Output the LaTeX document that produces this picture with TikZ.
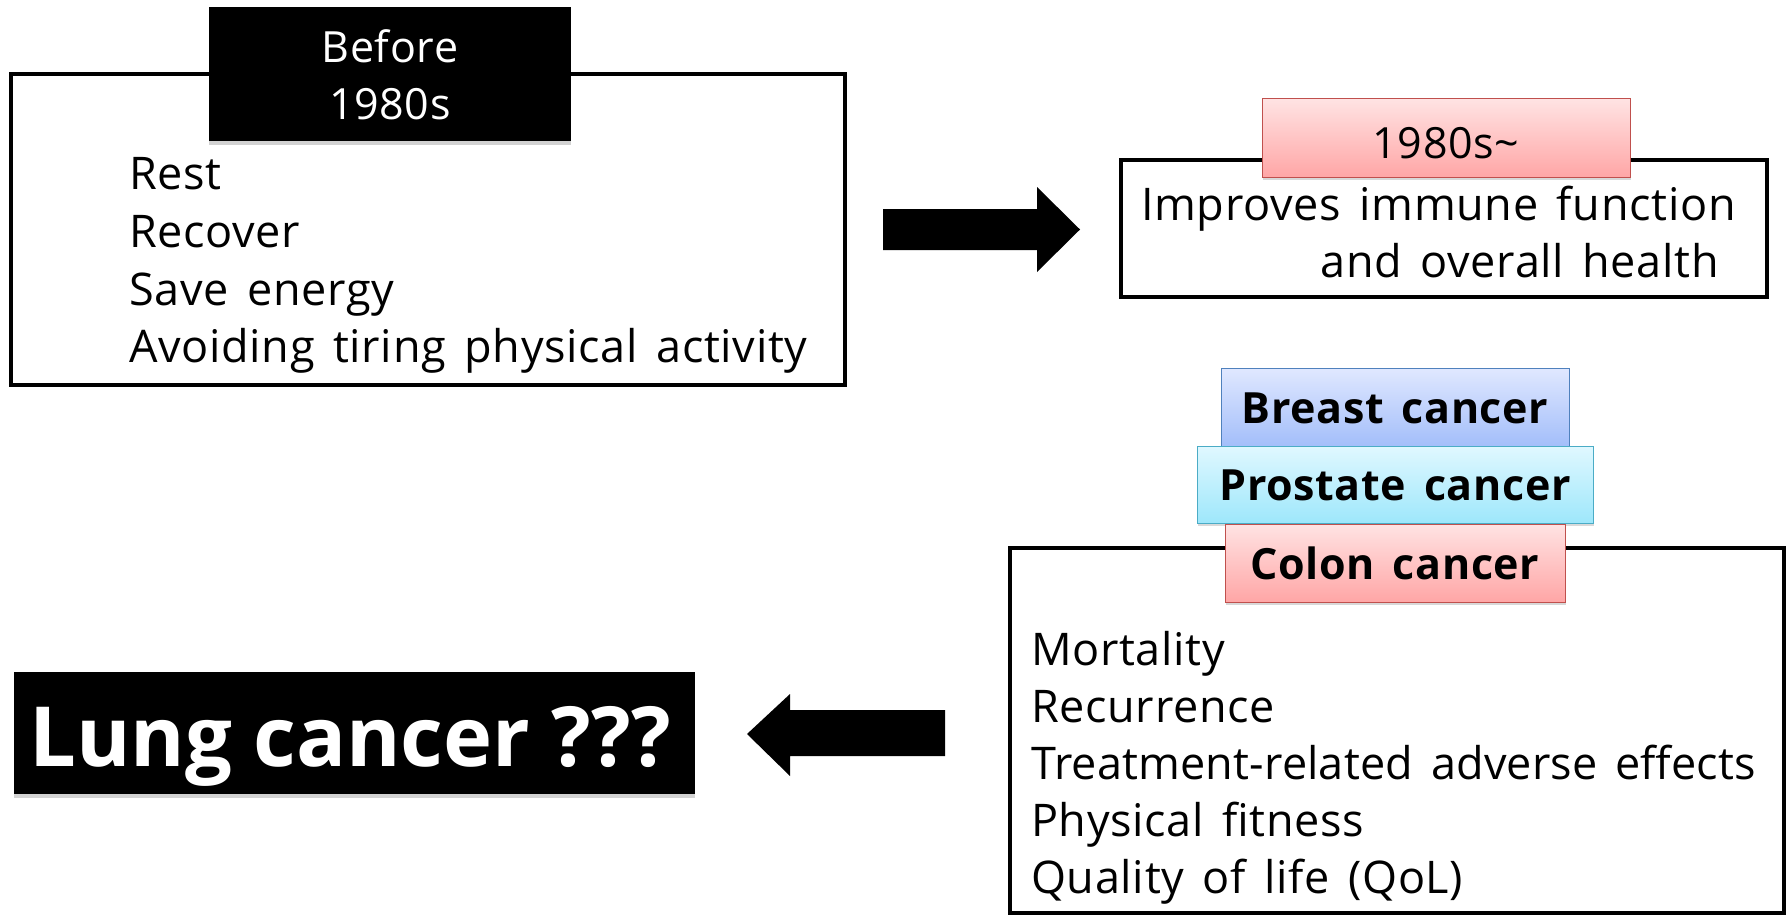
\documentclass[tikz,border=0pt]{standalone}
\usepackage{fontspec}
\setmainfont[WordSpace=1.5,LetterSpace=1.5]{Open Sans}
\newfontfamily\lungfont{Open Sans}
\newfontfamily\tightfont[WordSpace=1.5,LetterSpace=0.4]{Open Sans}
\usetikzlibrary{shadows}
\definecolor{pinktop}{HTML}{FFE3E3}
\definecolor{pinkbot}{HTML}{FFA6A6}
\definecolor{pinkline}{HTML}{C0504D}
\definecolor{bluetop}{HTML}{E0E8FF}
\definecolor{bluebot}{HTML}{A3BEFA}
\definecolor{blueline}{HTML}{4F81BD}
\definecolor{cyantop}{HTML}{E0F8FF}
\definecolor{cyanbot}{HTML}{9EE7FB}
\definecolor{cyanline}{HTML}{4BACC6}
\begin{document}
\begin{tikzpicture}[x=1pt,y=-1pt,
  frame/.style={draw=black, line width=3.5pt, fill=white, inner sep=0pt},
  blackbox/.style={fill=black, inner sep=0pt, text=white,
     drop shadow={shadow xshift=0pt, shadow yshift=-4pt, opacity=0.35}},
  tab/.style={inner sep=0pt, line width=1pt,
     drop shadow={shadow xshift=1pt, shadow yshift=-3pt, opacity=0.3}},
  pinktab/.style={tab, draw=pinkline, top color=pinktop, bottom color=pinkbot},
  bluetab/.style={tab, draw=blueline, top color=bluetop, bottom color=bluebot},
  cyantab/.style={tab, draw=cyanline, top color=cyantop, bottom color=cyanbot},
  body/.style={font=\fontsize{45}{57}\selectfont, inner sep=0pt},
  head/.style={font=\fontsize{43}{57}\selectfont, inner sep=0pt},
  boldtab/.style={font=\bfseries\fontsize{43}{48}\selectfont, inner sep=0pt},
  blockarrow/.style={fill=black}]
\useasboundingbox (0,0) rectangle (1787,915);

% Box 1
\node[frame, minimum width=834pt, minimum height=311pt] (box1) at (428,229.5) {};
\node[blackbox, minimum width=362pt, minimum height=134pt] (before) at (390,74) {};
\node[head, anchor=base, text=white] (before1) at (390,63) {Before};
\node[head, anchor=base, text=white] (before2) at (390,120) {1980s};
\node[body, anchor=base west] (r1) at (129,189) {Rest};
\node[body, anchor=base west] (r2) at (129,247) {Recover};
\node[body, anchor=base west] (r3) at (129,305) {Save energy};
\node[body, anchor=base west] (r4) at (129,362) {Avoiding tiring physical activity};

% Right arrow
\fill[blockarrow] (883,209) -- (1037,209) -- (1037,187) -- (1080,229.5)
  -- (1037,272) -- (1037,250) -- (883,250) -- cycle;

% Box 2
\node[frame, minimum width=646pt, minimum height=137pt] (box2) at (1444,228.5) {};
\node[pinktab, minimum width=368pt, minimum height=78pt] (y1980) at (1446,138) {};
\node[head, anchor=base] (y1980t) at (1446,158) {1980s\textasciitilde};
\node[body, anchor=base west] (i1) at (1141,220) {Improves immune function};
\node[body, anchor=base east] (i2) at (1719,277) {and overall health};

% Box 3
\node[frame, minimum width=774pt, minimum height=365pt] (box3) at (1397,730.5) {};
\node[bluetab, minimum width=348pt, minimum height=78pt] (breast) at (1395,407) {};
\node[cyantab, minimum width=396pt, minimum height=77pt] (prostate) at (1395,484.5) {};
\node[pinktab, minimum width=340pt, minimum height=78pt] (colon) at (1395,563) {};
\node[boldtab, anchor=base] (breastt) at (1395,423) {Breast cancer};
\node[boldtab, anchor=base] (prostatet) at (1395,500) {Prostate cancer};
\node[boldtab, anchor=base] (colont) at (1395,579) {Colon cancer};
\node[body, anchor=base west] (m1) at (1031,665) {Mortality};
\node[body, anchor=base west] (m2) at (1031,722) {Recurrence};
\node[body, anchor=base west, font=\tightfont\fontsize{45}{57}\selectfont] (m3) at (1031,779) {Treatment-related adverse effects};
\node[body, anchor=base west] (m4) at (1031,836) {Physical fitness};
\node[body, anchor=base west] (m5) at (1031,893) {Quality of life (QoL)};

% Left arrow
\fill[blockarrow] (945,710) -- (790,710) -- (790,694) -- (747,734)
  -- (790,776) -- (790,756) -- (945,756) -- cycle;

% Lung cancer
\node[blackbox, minimum width=681pt, minimum height=122pt] (lung) at (354.5,733) {};
\node[anchor=base, text=white, inner sep=0pt,
      font=\lungfont\bfseries\fontsize{83}{90}\selectfont] (lungt) at (350,766) {Lung cancer ???};
\end{tikzpicture}
\end{document}
